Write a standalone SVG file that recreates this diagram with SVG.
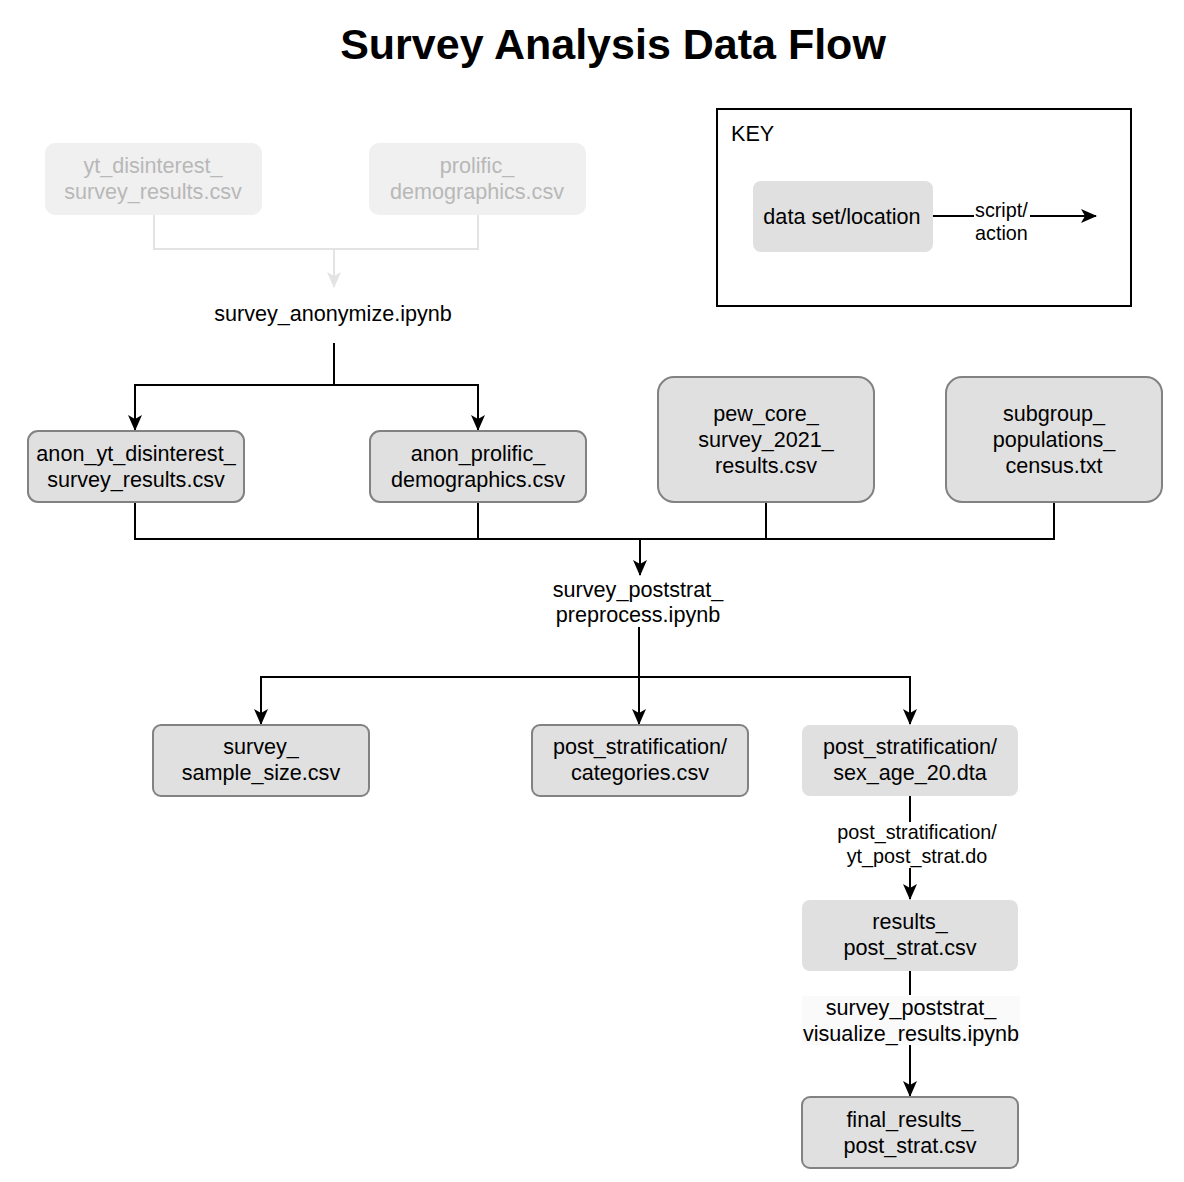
<svg xmlns="http://www.w3.org/2000/svg" width="1184" height="1182" viewBox="0 0 1184 1182">
<defs>
<style>
text{font-family:"Liberation Sans",Arial,sans-serif;font-size:21.6px;fill:#000;text-anchor:middle}
.title{font-size:43px;font-weight:bold}
.node{fill:#e0e0e0;stroke:#828282;stroke-width:2}
.nos{fill:#e0e0e0;stroke:none}
.faded{fill:#f0f0f0;stroke:none}
.ftxt{fill:#b8b8b8}
.edge{fill:none;stroke:#000;stroke-width:2}
.fedge{fill:none;stroke:#e3e3e3;stroke-width:2}
.lbl{font-size:19.8px}
</style>
<marker id="arr" viewBox="0 0 16 16" refX="15" refY="8" markerWidth="16" markerHeight="16" markerUnits="userSpaceOnUse" orient="auto">
<path d="M0,1 L16,8 L0,15 L4,8 Z" fill="#000"/>
</marker>
<marker id="farr" viewBox="0 0 16 16" refX="15" refY="8" markerWidth="16" markerHeight="16" markerUnits="userSpaceOnUse" orient="auto">
<path d="M0,1 L16,8 L0,15 L4,8 Z" fill="#e3e3e3"/>
</marker>
</defs>
<rect width="1184" height="1182" fill="#fff"/>
<text class="title" x="613" y="59">Survey Analysis Data Flow</text>

<g id="connectors">
<path class="fedge" d="M154,215 V249 H478 V215"/>
<path class="fedge" d="M334,249 V287" marker-end="url(#farr)"/>
<path class="edge" d="M334,343 V385"/>
<path class="edge" d="M334,385 H135 V430" marker-end="url(#arr)"/>
<path class="edge" d="M334,385 H478 V430" marker-end="url(#arr)"/>
<path class="edge" d="M135,502 V539 H1054 V502"/>
<path class="edge" d="M478,502 V539"/>
<path class="edge" d="M766,502 V539"/>
<path class="edge" d="M640,539 V575" marker-end="url(#arr)"/>
<path class="edge" d="M639,627 V677"/>
<path class="edge" d="M639,677 V724" marker-end="url(#arr)"/>
<path class="edge" d="M639,677 H261 V724" marker-end="url(#arr)"/>
<path class="edge" d="M639,677 H910 V724" marker-end="url(#arr)"/>
<path class="edge" d="M910,796 V822"/>
<path class="edge" d="M910,868 V899" marker-end="url(#arr)"/>
<path class="edge" d="M910,970 V995"/>
<path class="edge" d="M910,1045 V1096" marker-end="url(#arr)"/>
<text class="lbl" x="917" y="839">post_stratification/</text>
<text class="lbl" x="917" y="863">yt_post_strat.do</text>
<rect x="802" y="996" width="218" height="49" fill="#fafafa"/>
<text x="911" y="1015">survey_poststrat_</text>
<text x="911" y="1041">visualize_results.ipynb</text>
</g>

<g id="yt_disinterest">
<rect class="faded" x="45" y="143" width="217" height="72" rx="10"/>
<text class="ftxt" x="153" y="173">yt_disinterest_</text>
<text class="ftxt" x="153" y="199">survey_results.csv</text>
</g>
<g id="prolific">
<rect class="faded" x="369" y="143" width="217" height="72" rx="10"/>
<text class="ftxt" x="477" y="173">prolific_</text>
<text class="ftxt" x="477" y="199">demographics.csv</text>
</g>
<g id="survey_anonymize">
<text x="333" y="321">survey_anonymize.ipynb</text>
</g>
<g id="anon_yt">
<rect class="node" x="28" y="431" width="216" height="71" rx="10"/>
<text x="136" y="461">anon_yt_disinterest_</text>
<text x="136" y="487">survey_results.csv</text>
</g>
<g id="anon_prolific">
<rect class="node" x="370" y="431" width="216" height="71" rx="10"/>
<text x="478" y="461">anon_prolific_</text>
<text x="478" y="487">demographics.csv</text>
</g>
<g id="pew_core">
<rect class="node" x="658" y="377" width="216" height="125" rx="16"/>
<text x="766" y="421">pew_core_</text>
<text x="766" y="447">survey_2021_</text>
<text x="766" y="473">results.csv</text>
</g>
<g id="subgroup">
<rect class="node" x="946" y="377" width="216" height="125" rx="16"/>
<text x="1054" y="421">subgroup_</text>
<text x="1054" y="447">populations_</text>
<text x="1054" y="473">census.txt</text>
</g>
<g id="survey_poststrat_preprocess">
<text x="638" y="597">survey_poststrat_</text>
<text x="638" y="622">preprocess.ipynb</text>
</g>
<g id="sample_size">
<rect class="node" x="153" y="725" width="216" height="71" rx="8"/>
<text x="261" y="754">survey_</text>
<text x="261" y="780">sample_size.csv</text>
</g>
<g id="categories">
<rect class="node" x="532" y="725" width="216" height="71" rx="8"/>
<text x="640" y="754">post_stratification/</text>
<text x="640" y="780">categories.csv</text>
</g>
<g id="sex_age">
<rect class="nos" x="802" y="725" width="216" height="71" rx="8"/>
<text x="910" y="754">post_stratification/</text>
<text x="910" y="780">sex_age_20.dta</text>
</g>
<g id="results_post_strat">
<rect class="nos" x="802" y="900" width="216" height="71" rx="8"/>
<text x="910" y="929">results_</text>
<text x="910" y="955">post_strat.csv</text>
</g>
<g id="final_results">
<rect class="node" x="802" y="1097" width="216" height="71" rx="8"/>
<text x="910" y="1127">final_results_</text>
<text x="910" y="1153">post_strat.csv</text>
</g>

<g id="key">
<rect x="717" y="109" width="414" height="197" fill="none" stroke="#000" stroke-width="2"/>
<text x="731" y="141" style="text-anchor:start">KEY</text>
<rect class="nos" x="753" y="181" width="180" height="71" rx="8"/>
<text x="842" y="224">data set/location</text>
<path class="edge" d="M933,216 H1096" marker-end="url(#arr)"/>
<rect x="974" y="203" width="56" height="40" fill="#fff"/>
<text class="lbl" x="975" y="217" style="text-anchor:start">script/</text>
<text class="lbl" x="975" y="240" style="text-anchor:start">action</text>
</g>
</svg>
